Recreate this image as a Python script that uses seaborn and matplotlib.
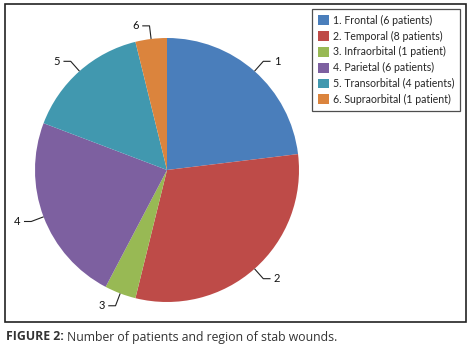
import numpy as np
import matplotlib
matplotlib.use("Agg")
import matplotlib.pyplot as plt
import seaborn as sns
from matplotlib.patches import Rectangle, Patch

# Stab wound regions (number of patients)
numbers = ["1", "2", "3", "4", "5", "6"]
regions = ["Frontal", "Temporal", "Infraorbital", "Parietal", "Transorbital", "Supraorbital"]
patients = [6, 8, 1, 6, 4, 1]
colors = ["#4A7EBB", "#BE4B48", "#98B954", "#7D60A0", "#4198AF", "#DB843D"]

legend_labels = [
    f"{n}. {r} ({p} patient{'s' if p != 1 else ''})"
    for n, r, p in zip(numbers, regions, patients)
]

sns.set_style("white")
plt.rcParams["font.family"] = ["Lato", "DejaVu Sans"]

W, H = 471, 349
fig = plt.figure(figsize=(W / 100, H / 100), dpi=100)

# pie centred at (167, 170) px, radius 131 px
cx, cy, R, S = 167, 170, 131, 165
ax = fig.add_axes([(cx - S) / W, (H - cy - S) / H, 2 * S / W, 2 * S / H])
lim = S / R
ax.set_xlim(-lim, lim)
ax.set_ylim(-lim, lim)
ax.set_aspect("equal")
ax.axis("off")

pal = sns.color_palette(colors)
wedges, _ = ax.pie(patients, colors=pal, startangle=90, counterclock=False,
                   radius=1, wedgeprops=dict(linewidth=0))

# data labels with leader lines
for w, num in zip(wedges, numbers):
    ang = np.deg2rad((w.theta1 + w.theta2) / 2)
    c, s = np.cos(ang), np.sin(ang)
    x0, y0 = c, s
    x1, y1 = 1.10 * c, 1.10 * s
    side = 1 if c > 0 else -1
    x2 = x1 + side * 0.055
    ax.plot([x0, x1, x2], [y0, y1, y1], color="#222222", lw=0.8,
            solid_capstyle="butt", clip_on=False)
    ax.text(x2 + side * 0.025, y1, num, ha="left" if side > 0 else "right",
            va="center", fontsize=8, color="#111111")

# legend
handles = [Patch(facecolor=col, edgecolor="none") for col in pal]
leg = fig.legend(handles, legend_labels, loc="upper left",
                 bbox_to_anchor=(312 / W, 1 - 9 / H), frameon=True,
                 fancybox=False, fontsize=7.6, handlelength=1.05,
                 handleheight=1.05, handletextpad=0.35, labelspacing=0.45,
                 borderpad=0.55, borderaxespad=0)
leg.get_frame().set_edgecolor("#222222")
leg.get_frame().set_linewidth(0.9)

# outer chart border
fig.patches.append(Rectangle((5 / W, 1 - 322 / H), 461 / W, 318 / H,
                             transform=fig.transFigure, fill=False,
                             edgecolor="#222222", linewidth=1.2))

# caption
t1 = fig.text(6 / W, 1 - 337 / H, "FIGURE 2:", fontsize=8.8, fontweight="bold",
              family=["Open Sans", "DejaVu Sans"], color="#333333", va="center")
fig.canvas.draw()
bb = t1.get_window_extent()
fig.text((bb.x1 + 3) / W, 1 - 337 / H, "Number of patients and region of stab wounds.",
         fontsize=8.8, family=["Open Sans", "DejaVu Sans"], color="#333333",
         va="center")

fig.savefig("out.png", dpi=100)
